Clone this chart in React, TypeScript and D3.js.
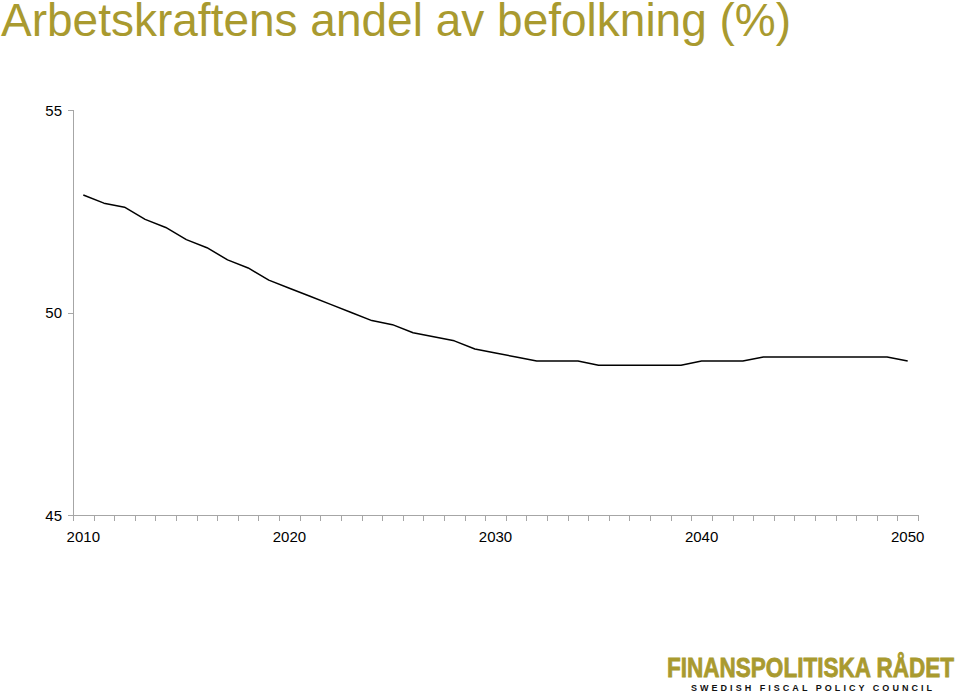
import React, { useRef, useEffect } from "react";
import * as d3 from "d3";

// Arbetskraftens andel av befolkning (%), 2010-2050
const years: number[] = d3.range(2010, 2051);
const share: number[] = [
  52.9, 52.7, 52.6, 52.3, 52.1, 51.8, 51.6, 51.3, 51.1, 50.8,
  50.6, 50.4, 50.2, 50.0, 49.8, 49.7, 49.5, 49.4, 49.3, 49.1,
  49.0, 48.9, 48.8, 48.8, 48.8, 48.7, 48.7, 48.7, 48.7, 48.7,
  48.8, 48.8, 48.8, 48.9, 48.9, 48.9, 48.9, 48.9, 48.9, 48.9,
  48.8,
];
const yTicks: number[] = [45, 50, 55];
const xLabels: number[] = [2010, 2020, 2030, 2040, 2050];

const GOLD = "#a99a2f";
const AXIS = "#a6a6a6";
const FONT = "'Liberation Sans', Arial, Helvetica, sans-serif";

export default function App() {
  const ref = useRef<SVGSVGElement>(null);

  useEffect(() => {
    const width = 960;
    const height = 694;
    const plot = { left: 73, right: 918, top: 110, bottom: 515 };

    const svg = d3.select(ref.current);
    svg.selectAll("*").remove();

    const x = d3
      .scaleBand<number>()
      .domain(years)
      .range([plot.left, plot.right])
      .padding(0);

    const y = d3
      .scaleLinear()
      .domain([45, 55])
      .range([plot.bottom, plot.top]);

    // title
    svg
      .append("text")
      .attr("x", 1)
      .attr("y", 36)
      .attr("fill", GOLD)
      .style("font-family", FONT)
      .style("font-size", "46px")
      .text("Arbetskraftens andel av befolkning (%)");

    // y axis
    const yAxis = svg.append("g");
    yAxis
      .append("line")
      .attr("x1", plot.left + 0.5)
      .attr("x2", plot.left + 0.5)
      .attr("y1", plot.top)
      .attr("y2", plot.bottom)
      .attr("stroke", AXIS);
    yTicks.forEach((t) => {
      yAxis
        .append("line")
        .attr("x1", plot.left - 5)
        .attr("x2", plot.left)
        .attr("y1", Math.round(y(t)) + 0.5)
        .attr("y2", Math.round(y(t)) + 0.5)
        .attr("stroke", AXIS);
      yAxis
        .append("text")
        .attr("x", plot.left - 11)
        .attr("y", y(t) + 5.5)
        .attr("text-anchor", "end")
        .style("font-family", FONT)
        .style("font-size", "15px")
        .attr("fill", "#000")
        .text(t);
    });

    // x axis
    const xAxis = svg.append("g");
    xAxis
      .append("line")
      .attr("x1", plot.left)
      .attr("x2", plot.right)
      .attr("y1", plot.bottom + 0.5)
      .attr("y2", plot.bottom + 0.5)
      .attr("stroke", AXIS);
    const bounds = years.map((yr) => x(yr)!).concat([plot.right]);
    bounds.forEach((bx) => {
      xAxis
        .append("line")
        .attr("x1", Math.round(bx) + 0.5)
        .attr("x2", Math.round(bx) + 0.5)
        .attr("y1", plot.bottom)
        .attr("y2", plot.bottom + 6)
        .attr("stroke", AXIS);
    });
    xLabels.forEach((yr) => {
      xAxis
        .append("text")
        .attr("x", x(yr)! + x.bandwidth() / 2)
        .attr("y", plot.bottom + 27)
        .attr("text-anchor", "middle")
        .style("font-family", FONT)
        .style("font-size", "15px")
        .attr("fill", "#000")
        .text(yr);
    });

    // line
    const line = d3
      .line<number>()
      .x((_, i) => x(years[i])! + x.bandwidth() / 2)
      .y((d) => y(d));

    svg
      .append("path")
      .datum(share)
      .attr("fill", "none")
      .attr("stroke", "#000")
      .attr("stroke-width", 1.5)
      .attr("stroke-linejoin", "round")
      .attr("d", line);

    // logo
    svg
      .append("text")
      .attr("x", 667)
      .attr("y", 677)
      .attr("fill", GOLD)
      .attr("stroke", GOLD)
      .attr("stroke-width", 0.8)
      .attr("textLength", 287)
      .attr("lengthAdjust", "spacingAndGlyphs")
      .style("font-family", FONT)
      .style("font-weight", "bold")
      .style("font-size", "27px")
      .text("FINANSPOLITISKA RÅDET");
    svg
      .append("text")
      .attr("x", 691)
      .attr("y", 691)
      .attr("fill", "#111")
      .attr("textLength", 241)
      .attr("lengthAdjust", "spacing")
      .style("font-family", FONT)
      .style("font-weight", "bold")
      .style("font-size", "9px")
      .text("SWEDISH FISCAL POLICY COUNCIL");

    svg.attr("width", width).attr("height", height);
  }, []);

  return (
    <svg
      ref={ref}
      width={960}
      height={694}
      style={{ position: "absolute", left: 0, top: 0, background: "#fff" }}
    />
  );
}
